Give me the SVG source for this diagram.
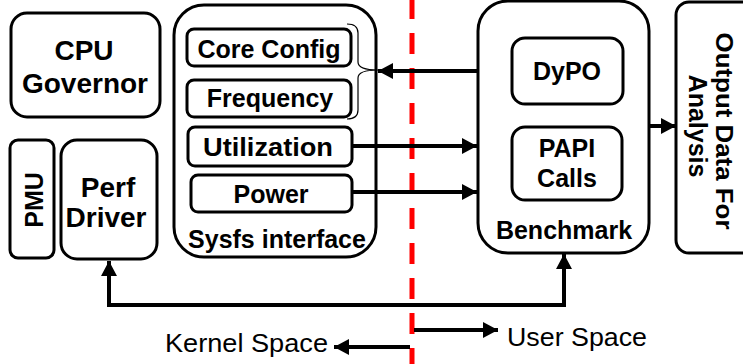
<svg xmlns="http://www.w3.org/2000/svg" width="743" height="364" viewBox="0 0 743 364">
  <style>
    .box { fill: #ffffff; stroke: #000000; stroke-width: 3; }
    .lbl { font-family: "Liberation Sans", Arial, sans-serif; font-weight: bold; fill: #000000; text-anchor: middle; }
    .big { font-size: 28px; }
    .mid { font-size: 25px; }
    .note { font-family: "Liberation Sans", Arial, sans-serif; font-size: 26px; fill: #000000; }
    .wire { fill: none; stroke: #000000; stroke-width: 4; }
    .thin { fill: none; stroke: #000000; stroke-width: 1.2; }
    .split { fill: none; stroke: #ff0000; stroke-width: 5; stroke-dasharray: 21 14; }
  </style>
  <defs>
    <marker id="head" markerUnits="userSpaceOnUse" markerWidth="15" markerHeight="16" refX="15" refY="8" orient="auto-start-reverse">
      <path d="M0,0 L15,8 L0,16 z" fill="#000000"/>
    </marker>
  </defs>

  <rect width="743" height="364" fill="#ffffff"/>

  <!-- kernel / user space boundary -->
  <line class="split" x1="412" y1="-2" x2="412" y2="366"/>

  <g id="cpu-governor">
    <rect class="box" x="11" y="13" width="149" height="104" rx="16"/>
    <text class="lbl big" x="84" y="60">CPU</text>
    <text class="lbl big" x="85" y="93">Governor</text>
  </g>

  <g id="pmu">
    <rect class="box" x="10" y="140" width="44" height="118" rx="8"/>
    <text class="lbl mid" transform="translate(43,200) rotate(-90)" x="0" y="0">PMU</text>
  </g>

  <g id="perf-driver">
    <rect class="box" x="61" y="140" width="96" height="119" rx="16"/>
    <text class="lbl big" x="108" y="197">Perf</text>
    <text class="lbl big" x="106" y="227">Driver</text>
  </g>

  <g id="sysfs-interface">
    <rect class="box" x="174" y="5" width="202" height="252" rx="30"/>
    <text class="lbl mid" x="277" y="248" font-size="24">Sysfs interface</text>
  </g>

  <g id="core-config">
    <rect class="box" x="187" y="29" width="164" height="37" rx="7"/>
    <text class="lbl mid" x="269" y="58">Core Config</text>
  </g>

  <g id="frequency">
    <rect class="box" x="187" y="80" width="164" height="37" rx="7"/>
    <text class="lbl mid" x="270" y="107">Frequency</text>
  </g>

  <g id="utilization">
    <rect class="box" x="188" y="127" width="164" height="39" rx="7"/>
    <text class="lbl mid" x="268" y="156" textLength="130" lengthAdjust="spacingAndGlyphs">Utilization</text>
  </g>

  <g id="power">
    <rect class="box" x="191" y="175" width="161" height="37" rx="7"/>
    <text class="lbl mid" x="271" y="203">Power</text>
  </g>

  <g id="benchmark">
    <rect class="box" x="478" y="1" width="171" height="252" rx="30"/>
    <text class="lbl mid" x="564" y="239" font-size="24">Benchmark</text>
  </g>

  <g id="dypo">
    <rect class="box" x="512" y="38" width="111" height="66" rx="13"/>
    <text class="lbl mid" x="567" y="80">DyPO</text>
  </g>

  <g id="papi-calls">
    <rect class="box" x="512" y="127" width="110" height="73" rx="13"/>
    <text class="lbl mid" x="567" y="157">PAPI</text>
    <text class="lbl mid" x="567" y="187">Calls</text>
  </g>

  <g id="output-data">
    <rect class="box" x="676" y="2" width="80" height="251" rx="13"/>
    <text class="lbl" font-size="23" transform="translate(716,131) rotate(90)" x="0" y="0" textLength="197" lengthAdjust="spacingAndGlyphs">Output Data For</text>
    <text class="lbl mid" transform="translate(689,126) rotate(90)" x="0" y="0">Analysis</text>
  </g>

  <g id="connectors">
    <!-- brace grouping Core Config and Frequency -->
    <path class="thin" d="M347 24 Q358 24 358 33 L358 62 Q358 70 378 70 Q358 70 358 78 L358 110 Q358 119 347 119"/>
    <path class="wire" d="M477 71 L378 71" marker-end="url(#head)"/>
    <path class="wire" d="M352 146 L477 146" marker-end="url(#head)"/>
    <path class="wire" d="M352 192 L477 192" marker-end="url(#head)"/>
    <path class="wire" d="M649 126 L676 126" marker-end="url(#head)"/>
    <path class="wire" d="M109 261 L109 305 L564 305 L564 254" marker-start="url(#head)" marker-end="url(#head)"/>
    <path class="wire" d="M414 330 L498 330" marker-end="url(#head)"/>
    <path class="wire" d="M410 347 L334 347" marker-end="url(#head)"/>
  </g>

  <text class="note" x="165" y="352" textLength="163" lengthAdjust="spacingAndGlyphs">Kernel Space</text>
  <text class="note" x="507" y="346" textLength="140" lengthAdjust="spacingAndGlyphs">User Space</text>
</svg>
